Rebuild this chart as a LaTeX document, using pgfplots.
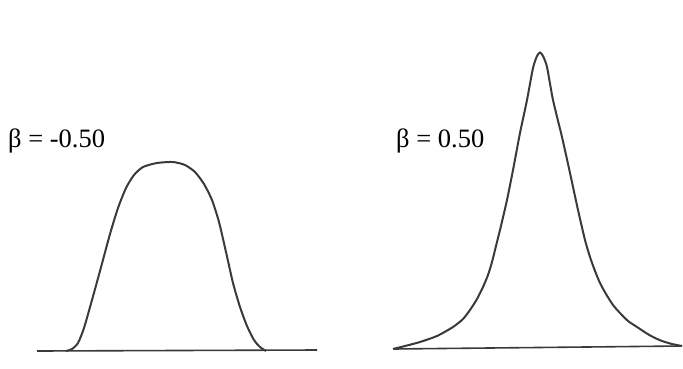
\documentclass[border=0pt]{standalone}
\usepackage{pgfplots}
\pgfplotsset{compat=1.18}
\usepackage{fontspec}
\setmainfont{Liberation Serif}
\newfontfamily\labfont{Liberation Serif}
\definecolor{ink}{HTML}{3A3A3A}
\begin{document}
\begin{tikzpicture}
\begin{axis}[
  scale only axis, width=683pt, height=368pt,
  xmin=0, xmax=683, ymin=0, ymax=368, y dir=reverse,
  axis line style={draw=none}, ticks=none, clip=false,
]
% baselines
\addplot[ink, line width=1.6pt] coordinates {(37,351) (317,350)};
\addplot[ink, line width=1.6pt] coordinates {(393,349) (682,346)};
% beta = -0.50
\addplot[ink, line width=2pt, smooth, tension=0.4] coordinates {
 (66,351) (72,349) (78,343) (84,328) (92,300) (100,271) (110,234) (118,208)
 (126,188) (134,175) (143,167) (157,163) (173,162) (185,165) (195,172)
 (204,184) (212,200) (219,222) (226,252) (233,283) (240,307) (247,326)
 (254,340) (260,347) (266,351)
};
% beta = 0.50
\addplot[ink, line width=2pt, smooth, tension=0.4] coordinates {
 (393,349) (405,346) (420,342) (437,336) (453,327) (463,319) (470,310)
 (477,299) (483,287) (488,275) (492,262) (496,246) (500,230) (507,200)
 (513,170) (520,133) (527,100) (533,68) (537,56) (540,52.5) (543,56)
 (547,67) (553,100) (562,137) (570,173) (578,210) (585,240) (590,257)
 (595,271) (600,283) (606,294) (613,305) (620,313) (628,321) (637,327)
 (646,333) (653,337) (662,341) (672,344) (682,346)
};
\node[font=\labfont\fontsize{26.5}{32}\selectfont, anchor=west, inner sep=0pt] at (axis cs:8,141) {β = -0.50};
\node[font=\labfont\fontsize{26.5}{32}\selectfont, anchor=west, inner sep=0pt] at (axis cs:396,141) {β = 0.50};
\end{axis}
\end{tikzpicture}
\end{document}
